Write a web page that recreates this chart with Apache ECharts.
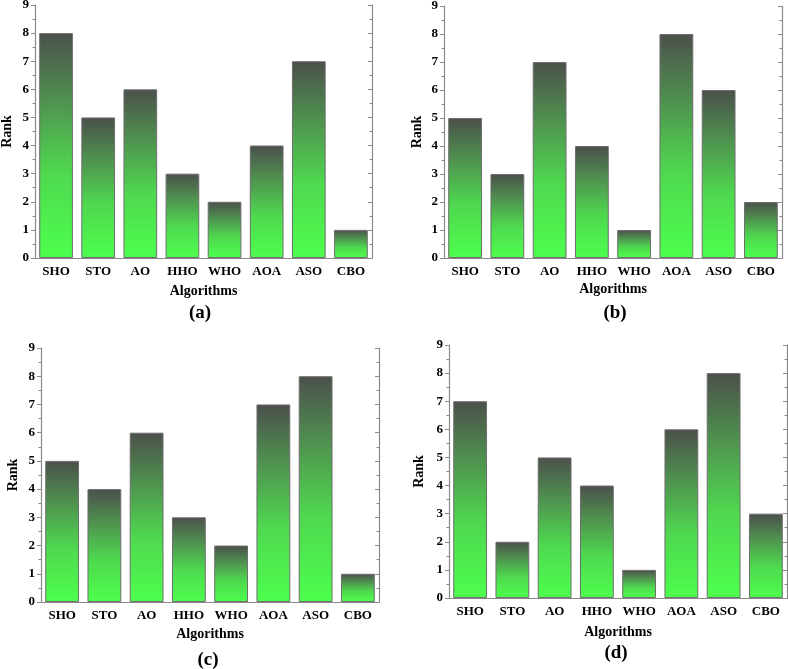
<!DOCTYPE html>
<html>
<head>
<meta charset="utf-8">
<script src="https://cdn.jsdelivr.net/npm/echarts@6/dist/echarts.min.js"></script>
<style>html,body{margin:0;padding:0;background:#fff;}#c{width:788px;height:669px;}</style>
</head>
<body>
<div id="c"></div>
<script>
const categories = ['SHO','STO','AO','HHO','WHO','AOA','ASO','CBO'];
const rankA = [8,5,6,3,2,4,7,1];
const rankB = [5,3,7,4,1,8,6,2];
const rankC = [5,4,6,3,2,7,8,1];
const rankD = [7,2,5,4,1,6,8,3];
const panelLabels = ['(a)','(b)','(c)','(d)'];
const yName = 'Rank';
const xName = 'Algorithms';

const FONT = '"Liberation Serif", "Times New Roman", serif';
const AX = '#8a8a8a';

const grids = [
  {left:35, right:416, top:5, bottom:411},
  {left:444, right:6, top:6, bottom:411},
  {left:41, right:409, top:348, bottom:67},
  {left:449, right:1, top:345, bottom:71}
].map(g => Object.assign(g, {containLabel:false, outerBoundsMode:'none'}));
const xNameGaps = [26, 24, 25, 27];
const yNameGaps = [21, 20, 21, 23];
const subPos = [[200,313],[615,313],[208,660],[616,653]];
const allData = [rankA, rankB, rankC, rankD];

const xAxes = [], yAxes = [], series = [], graphics = [];
grids.forEach((g, i) => {
  xAxes.push({
    type:'category', gridIndex:i, data:categories, position:'bottom',
    name:xName, nameLocation:'middle', nameGap:xNameGaps[i],
    nameTextStyle:{fontFamily:FONT, fontWeight:'bold', fontSize:14, color:'#000'},
    axisLine:{lineStyle:{color:AX, width:1.2}},
    axisTick:{alignWithLabel:true, length:4, lineStyle:{color:AX}},
    axisLabel:{fontFamily:FONT, fontWeight:'bold', fontSize:13, color:'#000', margin:7, interval:0}
  });
  xAxes.push({
    type:'category', gridIndex:i, data:categories, position:'top',
    axisLine:{lineStyle:{color:AX, width:1.2}},
    axisTick:{alignWithLabel:true, inside:true, length:4, lineStyle:{color:AX}},
    axisLabel:{show:false}
  });
  xAxes.push({
    type:'category', gridIndex:i, data:categories, position:'bottom', offset:0,
    axisLine:{show:false},
    axisTick:{alignWithLabel:false, interval:0, length:2.5, lineStyle:{color:AX}},
    axisLabel:{show:false}
  });
  yAxes.push({
    type:'value', gridIndex:i, min:0, max:9, interval:1, position:'left',
    name:yName, nameLocation:'middle', nameGap:yNameGaps[i],
    nameTextStyle:{fontFamily:FONT, fontWeight:'bold', fontSize:14, color:'#000'},
    axisLine:{show:true, lineStyle:{color:AX, width:1.2}},
    axisTick:{show:true, length:4, lineStyle:{color:AX}},
    minorTick:{show:true, splitNumber:2, length:2.5, lineStyle:{color:AX}},
    splitLine:{show:false},
    axisLabel:{fontFamily:FONT, fontWeight:'bold', fontSize:13, color:'#000', margin:6}
  });
  yAxes.push({
    type:'value', gridIndex:i, min:0, max:9, interval:1, position:'right',
    axisLine:{show:true, lineStyle:{color:AX, width:1.2}},
    axisTick:{show:true, inside:true, length:4, lineStyle:{color:AX}},
    minorTick:{show:true, splitNumber:2, length:2.5, lineStyle:{color:AX}},
    splitLine:{show:false},
    axisLabel:{show:false}
  });
  series.push({
    type:'bar', xAxisIndex:i*3, yAxisIndex:i*2, data:allData[i],
    barCategoryGap:'20%',
    itemStyle:{
      borderColor:'#6e6e6e', borderWidth:1,
      color:{type:'linear', x:0, y:0, x2:0, y2:1, colorStops:[
        {offset:0, color:'#4b504b'},
        {offset:0.3, color:'#4f924f'},
        {offset:0.62, color:'#4fd84f'},
        {offset:1, color:'#4dff4d'}
      ]}
    }
  });
  graphics.push({
    type:'text', x:subPos[i][0], y:subPos[i][1],
    style:{text:panelLabels[i], fontFamily:FONT, fontWeight:'bold', fontSize:19, fill:'#000', align:'center', verticalAlign:'middle'}
  });
});

const chart = echarts.init(document.getElementById('c'));
chart.setOption({
  animation:false,
  grid:grids,
  xAxis:xAxes,
  yAxis:yAxes,
  series:series,
  graphic:graphics
});
</script>
</body>
</html>
